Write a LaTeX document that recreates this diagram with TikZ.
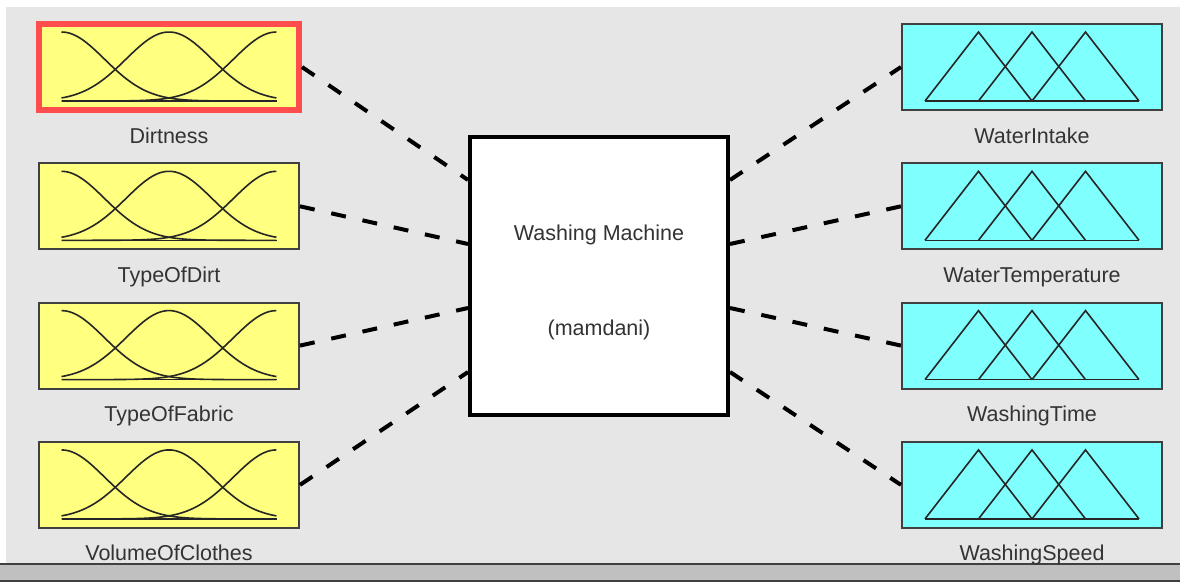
\documentclass[tikz,border=0pt]{standalone}
\usepackage{fontspec}
\setmainfont{Liberation Sans}
\usetikzlibrary{
	positioning
}
\definecolor{panel}{HTML}{E6E6E6}
\definecolor{bar}{HTML}{C0C0C0}
\definecolor{mfyellow}{HTML}{FFFF80}
\definecolor{mfcyan}{HTML}{80FFFF}
\definecolor{pick}{HTML}{FF4D4D}
\newcommand{\link}[2]{
	\draw[link] (#1) -- (#2);
}
\tikzset{
	varbox/.style={
		draw=black!75
		,line width=2pt
		,rectangle
		,minimum width=260pt
		,minimum height=86pt
		,inner sep=0pt
	},
	inbox/.style={
		varbox
		,fill=mfyellow
	},
	outbox/.style={
		varbox
		,fill=mfcyan
	},
	picked/.style={
		draw=pick
		,line width=6pt
	},
	fis/.style={
		draw=black
		,fill=white
		,line width=4pt
		,minimum width=258pt
		,minimum height=278pt
		,inner sep=0pt
	},
	tag/.style={
		font=\fontsize{21.5}{24}\selectfont
		,text=black!80
		,anchor=base
		,inner sep=0pt
	},
	link/.style={
		line width=4pt
		,dash pattern=on 15pt off 17pt
	},
	mf/.style={
		line width=1.6pt
		,black!85
	}
}
\begin{document}
\begin{tikzpicture}[x=1pt,y=-1pt]
	\useasboundingbox (0,0) rectangle (1180,583);
	% window
	\fill[white] (0,0) rectangle (1180,583);
	\fill[panel] (6,7) rectangle (1180,563);
	\fill[bar] (0,564) rectangle (1180,581);
	\draw[black!75,line width=2pt] (0,564) -- (1180,564);
	\draw[black!75,line width=1.5pt] (0,581) -- (1180,581);

	% inputs
	\foreach \name/\lbl/\extra [count=\i] in {
		dirt/Dirtness/picked,kind/TypeOfDirt/{},fabric/TypeOfFabric/{},load/VolumeOfClothes/{}%
	}{
		\pgfmathsetmacro{\y}{67+139.3*(\i-1)}
		\node[inbox,\extra] (\name) at (169,\y) {};
		\node[tag] (\name tag) at (169,\y+76) {\lbl};
		\begin{scope}[shift={(\name.center)},mf]
			\draw (-107.5,34) -- (107.5,34);
			\foreach \c in {0,0.5,1}{
				\draw plot[domain=0:1,samples=50,smooth] ({-107.5+215*\x},{34-69*exp(-((\x-\c)*(\x-\c))/0.08)});
			}
		\end{scope}
	}

	% outputs
	\foreach \name/\lbl [count=\i] in {
		intake/WaterIntake,temp/WaterTemperature,time/WashingTime,speed/WashingSpeed%
	}{
		\pgfmathsetmacro{\y}{67+139.3*(\i-1)}
		\node[outbox] (\name) at (1032,\y) {};
		\node[tag] (\name tag) at (1032,\y+76) {\lbl};
		\begin{scope}[shift={(\name.center)},mf]
			\draw (-107,34) -- (107,34);
			\foreach \c in {-53.5,0,53.5}{
				\draw (\c-53.5,34) -- (\c,-35) -- (\c+53.5,34);
			}
		\end{scope}
	}

	% system
	\node[fis] (fis) at (599,276) {};
	\node[tag] (fis name) at (599,240) {Washing Machine};
	\node[tag] (fis kind) at (599,335) {(mamdani)};
	\foreach \i/\dy in {1/-96,2/-32,3/32,4/96}{
		\coordinate (in\i) at (468,276+\dy);
		\coordinate (out\i) at (730,276+\dy);
	}

	\foreach \l/\r in {
		dirt/1,kind/2,fabric/3,load/4%
	}{
		\link{\l.east}{in\r}
	}
	\foreach \l/\r in {
		1/intake,2/temp,3/time,4/speed%
	}{
		\link{out\l}{\r.west}
	}
\end{tikzpicture}
\end{document}
